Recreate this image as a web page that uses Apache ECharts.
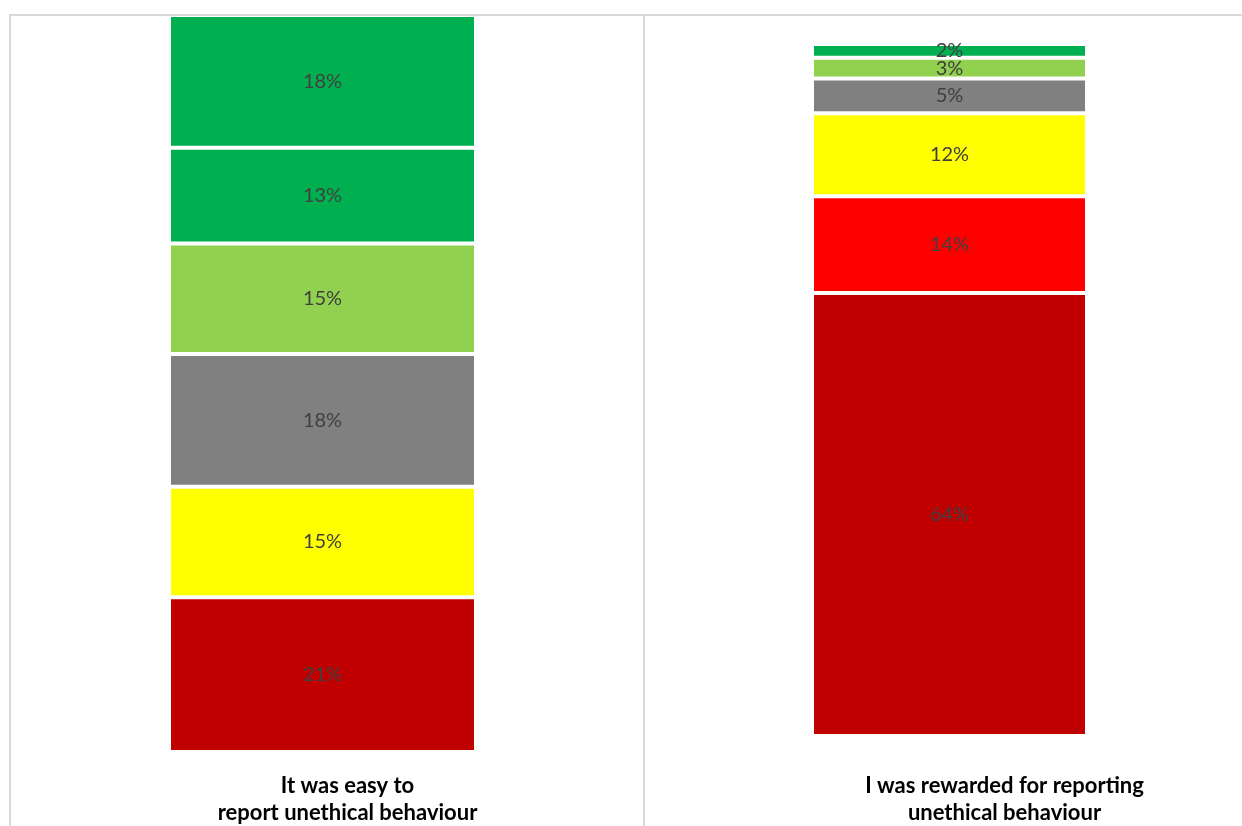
<!DOCTYPE html>
<html>
<head>
<meta charset="utf-8">
<title>Reporting unethical behaviour</title>
<script src="https://cdn.jsdelivr.net/npm/echarts@6/dist/echarts.min.js"></script>
<style>
  html, body { margin: 0; padding: 0; background: #ffffff; }
  #chart { width: 1242px; height: 826px; }
</style>
</head>
<body>
<div id="chart"></div>
<script>
// Category labels for the two panels
const easyCategory = ['It was easy to\nreport unethical behaviour'];
const rewardedCategory = ['I was rewarded for reporting\nunethical behaviour'];

// Stacked shares (%), bottom segment first
const easyValues = [21, 15, 18, 15, 13, 18];
const rewardedValues = [64, 14, 12, 5, 3, 2];

// Segment fills, bottom segment first
const easyColors = ['#C00000', '#FFFF00', '#808080', '#92D050', '#00B050', '#00B050'];
const rewardedColors = ['#C00000', '#FF0000', '#FFFF00', '#808080', '#92D050', '#00B050'];

const labelFont = 'Lato, "Open Sans", "Noto Sans", sans-serif';

function segmentSeries(values, colors, axisIndex, stackName, barWidth) {
  return values.map((v, i) => ({
    type: 'bar',
    xAxisIndex: axisIndex,
    yAxisIndex: axisIndex,
    stack: stackName,
    barWidth: barWidth,
    data: [v],
    itemStyle: { color: colors[i], borderColor: '#ffffff', borderWidth: 2 },
    label: {
      show: true,
      position: 'inside',
      formatter: '{c}%',
      color: '#404040',
      fontSize: 20,
      fontFamily: labelFont
    },
    emphasis: { disabled: true }
  }));
}

function categoryAxis(gridIndex, data, margin, shift) {
  return {
    type: 'category',
    gridIndex: gridIndex,
    data: data,
    axisLine: { show: false },
    axisTick: { show: false },
    axisLabel: {
      margin: margin,
      color: '#000000',
      fontWeight: 'bold',
      fontSize: 22,
      lineHeight: 27,
      fontFamily: labelFont,
      padding: [0, 0, 0, shift * 2]
    }
  };
}

function valueAxis(gridIndex) {
  return {
    type: 'value',
    gridIndex: gridIndex,
    min: 0,
    max: 100,
    show: false
  };
}

const chart = echarts.init(document.getElementById('chart'));
chart.setOption({
  animation: false,
  backgroundColor: '#ffffff',
  grid: [
    { left: 5, width: 635, top: 15, bottom: 74 },
    { left: 657, width: 585, top: 44, bottom: 90 }
  ],
  xAxis: [
    categoryAxis(0, easyCategory, 20, 25),
    categoryAxis(1, rewardedCategory, 36, 55)
  ],
  yAxis: [valueAxis(0), valueAxis(1)],
  series: [
    ...segmentSeries(easyValues, easyColors, 0, 'easy', 307),
    ...segmentSeries(rewardedValues, rewardedColors, 1, 'rewarded', 275)
  ],
  graphic: [
    { type: 'line', z: 100, shape: { x1: 9, y1: 15, x2: 1242, y2: 15 }, style: { stroke: '#D9D9D9', lineWidth: 2 } },
    { type: 'line', z: 100, shape: { x1: 10, y1: 14, x2: 10, y2: 826 }, style: { stroke: '#D9D9D9', lineWidth: 2 } },
    { type: 'line', z: 100, shape: { x1: 644, y1: 14, x2: 644, y2: 826 }, style: { stroke: '#D9D9D9', lineWidth: 2 } }
  ]
});
</script>
</body>
</html>
